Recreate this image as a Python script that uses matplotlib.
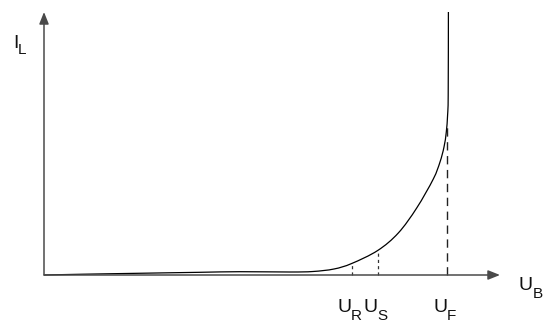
import matplotlib
matplotlib.use("Agg")
import matplotlib.pyplot as plt
from matplotlib.path import Path
from matplotlib.patches import PathPatch

# Characteristic curve (x: voltage, y: current), origin at axes corner
curve_x = [0, 40, 100, 156, 196, 246, 269, 290, 307.7, 333.7, 354.3, 372.7, 389.3, 396, 400, 402.3, 403.6, 404.2, 404.4]
curve_y = [0, 0.8, 1.8, 2.7, 3.3, 3.0, 3.5, 6.0, 11.5, 24.5, 42, 67, 96, 113, 128, 143, 160, 180, 263]

# Marked voltages and curve heights for dashed guides
marker_labels = ["R", "S", "F"]
marker_x = [307.7, 333.7, 403.4]
marker_y = [11.5, 24.5, 152]

x_axis_end = 456
y_axis_end = 263

fig = plt.figure(figsize=(5.48, 3.22), dpi=100)
ax = fig.add_axes([0, 0, 1, 1])
ax.set_xlim(-44, 504)
ax.set_ylim(-47, 275)
ax.axis("off")

font = ["Liberation Sans", "DejaVu Sans"]
axis_col = "#4a4a4a"

arrow = dict(arrowstyle="-|>,head_length=0.55,head_width=0.22", color=axis_col,
             lw=1.1, mutation_scale=13, shrinkA=0, shrinkB=0)
ax.annotate("", xy=(x_axis_end, 0), xytext=(0, 0), arrowprops=arrow)
ax.annotate("", xy=(0, y_axis_end), xytext=(0, 0), arrowprops=arrow)

# dashed guides
ax.plot([marker_x[0]] * 2, [0, marker_y[0]], color="#333333", lw=0.9, dashes=(2.5, 2.5))
ax.plot([marker_x[1]] * 2, [0, marker_y[1]], color="#333333", lw=0.9, dashes=(2.5, 2.5))
ax.plot([marker_x[2]] * 2, [0, marker_y[2]], color="#222222", lw=1.0, dashes=(6, 4))

# smooth curve through the read points (Catmull-Rom rendered as Bezier segments)
pts = list(zip(curve_x, curve_y))
verts = [pts[0]]
codes = [Path.MOVETO]
for i in range(len(pts) - 1):
    p0 = pts[i - 1] if i > 0 else pts[i]
    p1 = pts[i]
    p2 = pts[i + 1]
    p3 = pts[i + 2] if i + 2 < len(pts) else pts[i + 1]
    c1 = (p1[0] + (p2[0] - p0[0]) / 6, p1[1] + (p2[1] - p0[1]) / 6)
    c2 = (p2[0] - (p3[0] - p1[0]) / 6, p2[1] - (p3[1] - p1[1]) / 6)
    verts += [c1, c2, p2]
    codes += [Path.CURVE4] * 3
ax.add_patch(PathPatch(Path(verts, codes), fill=False, edgecolor="black", lw=0.9))

def sublabel(x, y, main, sub):
    ax.text(x, y, main, fontsize=14, family=font, ha="left", va="baseline", color="#111111")
    ax.text(x + 13.5, y - 7.5, sub, fontsize=11, family=font, ha="left", va="baseline", color="#111111")

label_y = 275 - 312
for lab, mx in zip(marker_labels, marker_x):
    sublabel(mx - 14, label_y, "U", lab)

sublabel(519 - 44, 275 - 290, "U", "B")
# I_L
ax.text(13 - 44, 275 - 48, "I", fontsize=14, family=font, ha="left", va="baseline", color="#111111")
ax.text(18 - 44, 275 - 54, "L", fontsize=11, family=font, ha="left", va="baseline", color="#111111")

fig.savefig("out.png", dpi=100)
